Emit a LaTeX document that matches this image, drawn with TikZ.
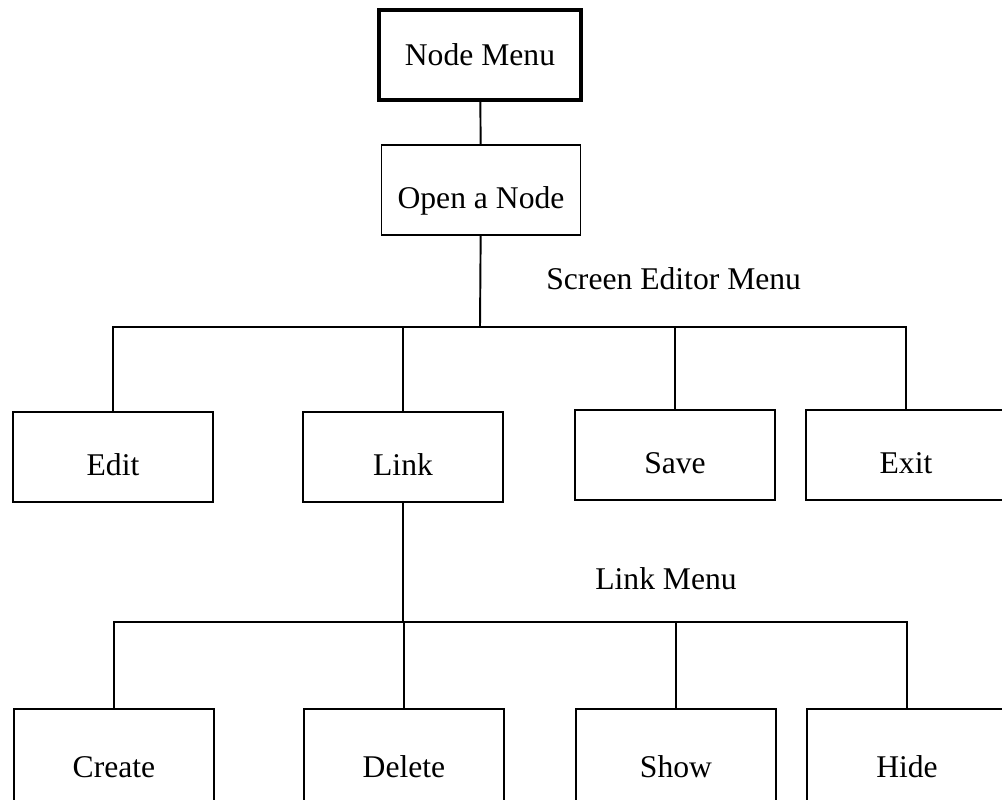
\documentclass[tikz,border=0pt]{standalone}
\usepackage{fontspec}
\setmainfont{Liberation Serif}
\begin{document}
\begin{tikzpicture}[x=0.02cm,y=-0.02cm,
  font=\fontsize{18}{21}\selectfont,
  menubox/.style={draw,rectangle,line width=1.1pt,minimum width=4cm,minimum height=1.8cm,inner sep=0pt,text height=0.9cm,text depth=0.15cm},
  leafbox/.style={menubox,minimum height=2cm}]
  \clip (0,0) rectangle (1002,799);
  \node[draw,rectangle,line width=2.4pt,minimum width=4.04cm,minimum height=1.8cm] (nodemenu) at (480,55) {Node Menu};
  \node[menubox,minimum width=3.98cm] (opennode) at (481,190) {Open a Node};
  \node[menubox] (edit) at (113,457) {Edit};
  \node[menubox] (link) at (403,457) {Link};
  \node[menubox] (save) at (675,455) {Save};
  \node[menubox] (exit) at (906,455) {Exit};
  \node[leafbox] (create) at (114,759) {Create};
  \node[leafbox] (delete) at (404,759) {Delete};
  \node[leafbox] (show) at (676,759) {Show};
  \node[leafbox] (hide) at (907,759) {Hide};
  \node[anchor=west,inner sep=0pt] (editormenu) at (546,279) {Screen Editor Menu};
  \node[anchor=west,inner sep=0pt] (linkmenu) at (595,579) {Link Menu};
  \coordinate (editorbar) at (480,327);
  \coordinate (linkbar) at (403,622);
  \draw[line width=1.1pt] (nodemenu) -- (opennode);
  \draw[line width=1.1pt] (opennode) -- (editorbar);
  \draw[line width=1.1pt] (edit.north) |- (exit.north |- editorbar) -- (exit.north);
  \draw[line width=1.1pt] (link.north) -- (link.north |- editorbar);
  \draw[line width=1.1pt] (save.north) -- (save.north |- editorbar);
  \draw[line width=1.1pt] (link) -- (linkbar);
  \draw[line width=1.1pt] (create.north) |- (hide.north |- linkbar) -- (hide.north);
  \draw[line width=1.1pt] (delete.north) -- (delete.north |- linkbar);
  \draw[line width=1.1pt] (show.north) -- (show.north |- linkbar);
\end{tikzpicture}
\end{document}
